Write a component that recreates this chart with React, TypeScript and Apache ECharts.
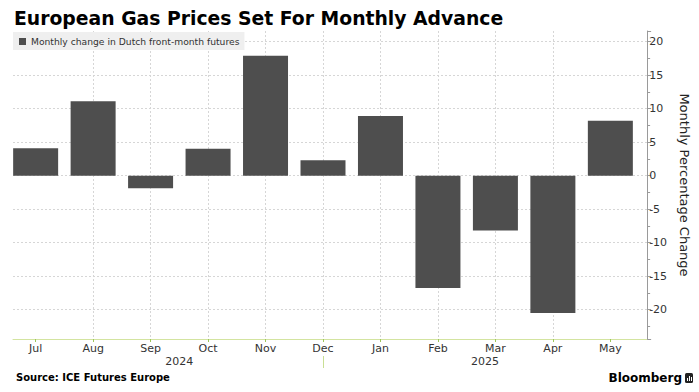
import React, { useEffect, useRef } from "react";
import * as echarts from "echarts";

const months = ["Jul", "Aug", "Sep", "Oct", "Nov", "Dec", "Jan", "Feb", "Mar", "Apr", "May"];
const changes = [4.1, 11.1, -1.9, 4.0, 17.9, 2.3, 8.9, -16.8, -8.2, -20.5, 8.2];
const yearLabels = ["2024", "2025"];
const yearCenters = [2.5, 7.82];
const yearBreaks = [5];
const seriesName = "Monthly change in Dutch front-month futures";

const FONT = "DejaVu Sans";

export default function App() {
  const ref = useRef<HTMLDivElement>(null);
  useEffect(() => {
    if (!ref.current) return;
    const chart = echarts.init(ref.current, null, { renderer: "svg" });
    const idx = months.map((_, i) => i);
    chart.setOption({
      animation: false,
      backgroundColor: "#ffffff",
      textStyle: { fontFamily: FONT },
      title: {
        text: "European Gas Prices Set For Monthly Advance",
        left: 9,
        top: 4,
        textStyle: { fontSize: 18.8, fontWeight: "bold", color: "#000", fontFamily: FONT },
      },
      legend: {
        data: [seriesName],
        left: 13,
        top: 32,
        icon: "rect",
        itemWidth: 7,
        itemHeight: 7,
        backgroundColor: "#efefef",
        padding: [5, 5, 4, 6],
        textStyle: { fontSize: 9.2, color: "#333", fontFamily: FONT },
      },
      grid: { left: 13, right: 50, top: 31, bottom: 53, containLabel: false },
      xAxis: [
        {
          type: "value",
          min: -0.394,
          max: 10.64,
          minInterval: 1,
          maxInterval: 1,
          axisLine: { show: true, onZero: false, lineStyle: { color: "#d3e4a0", width: 1 } },
          axisTick: { show: true, length: 3, lineStyle: { color: "#9cc65a" }, customValues: idx },
          axisLabel: {
            customValues: idx,
            formatter: (v: number) => (Number.isInteger(v) && months[v] ? months[v] : ""),
            color: "#333",
            fontSize: 11,
            margin: 4,
            fontFamily: FONT,
          },
          splitLine: {
            show: true,
            showMinLine: false,
            showMaxLine: false,
            lineStyle: { color: "#d6d6d6", type: [2, 2] },
          },
        },
        {
          type: "value",
          min: -0.394,
          max: 10.64,
          position: "bottom",
          offset: 17,
          axisLine: { show: false, onZero: false },
          axisTick: { show: true, length: 12, lineStyle: { color: "#c9df94" }, customValues: yearBreaks },
          axisLabel: {
            customValues: yearCenters,
            formatter: (v: number) => (v < yearBreaks[0] ? yearLabels[0] : yearLabels[1]),
            color: "#333",
            fontSize: 11,
            margin: 0,
            fontFamily: FONT,
          },
          splitLine: { show: false },
        },
      ],
      yAxis: {
        type: "value",
        position: "right",
        min: -24.4,
        max: 21.6,
        minInterval: 5,
        maxInterval: 5,
        name: "Monthly Percentage Change",
        nameLocation: "middle",
        nameRotate: -90,
        nameGap: 30,
        nameTextStyle: { fontSize: 13, color: "#222", fontFamily: FONT },
        axisLine: { show: true, onZero: false, lineStyle: { color: "#9a9a9a" } },
        axisTick: { show: true, inside: false, length: 4, lineStyle: { color: "#9a9a9a" } },
        minorTick: { show: true, splitNumber: 2, length: 3, lineStyle: { color: "#9a9a9a" } },
        axisLabel: {
          formatter: (v: number) => (Math.abs(v % 5) < 1e-9 ? String(Math.round(v)) : ""),
          showMinLabel: false,
          showMaxLabel: false,
          color: "#333",
          fontSize: 11,
          margin: 2,
          fontFamily: FONT,
        },
        splitLine: {
          show: true,
          showMinLine: false,
          showMaxLine: false,
          lineStyle: { color: "#d6d6d6", type: [2, 2] },
        },
      },
      series: [
        {
          name: seriesName,
          type: "bar",
          xAxisIndex: 0,
          barWidth: 45,
          itemStyle: { color: "#4e4e4e" },
          data: changes.map((v, i) => [i, v]),
        },
      ],
      graphic: [
        {
          type: "text",
          left: 16,
          top: 372,
          style: { text: "Source: ICE Futures Europe", fontSize: 10, fontWeight: "bold", fill: "#000", fontFamily: FONT },
        },
        {
          type: "text",
          x: 682,
          y: 372,
          style: {
            text: "Bloomberg",
            fontSize: 12,
            fontWeight: "bold",
            fill: "#000",
            fontFamily: FONT,
            align: "right",
            verticalAlign: "top",
          },
        },
        {
          type: "rect",
          shape: { x: 685, y: 373, width: 8, height: 10, r: 1.5 },
          style: { fill: "#222" },
        },
        { type: "rect", shape: { x: 687, y: 378, width: 1, height: 3 }, style: { fill: "#fff" } },
        { type: "rect", shape: { x: 689, y: 376, width: 1, height: 5 }, style: { fill: "#fff" } },
        { type: "rect", shape: { x: 691, y: 377, width: 1, height: 4 }, style: { fill: "#fff" } },
      ],
    });
    return () => chart.dispose();
  }, []);
  return <div ref={ref} style={{ width: 699, height: 392, position: "absolute", left: 0, top: 0 }} />;
}
